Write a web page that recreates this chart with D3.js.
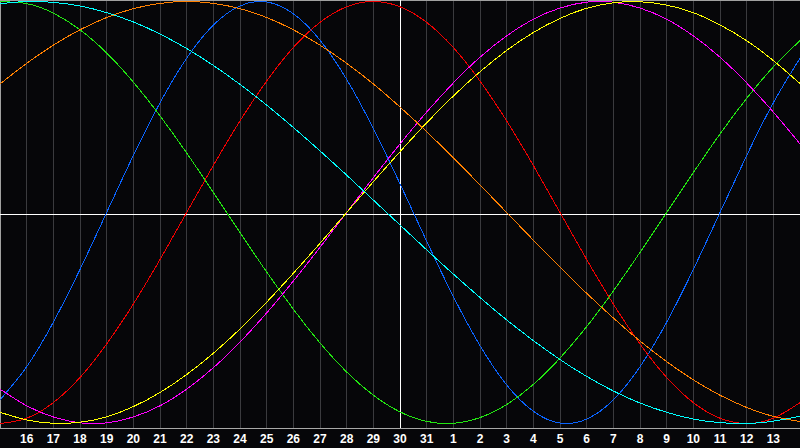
<!DOCTYPE html>
<html><head><meta charset="utf-8">
<script src="https://cdn.jsdelivr.net/npm/d3@7"></script>
<style>html,body{margin:0;padding:0;background:#060609;overflow:hidden}</style>
</head><body>
<svg id="chart" width="800" height="448"></svg>
<script>
// day labels, one per column (index 0 = left edge, 30 = right edge)
const dayLabels = [15,16,17,18,19,20,21,22,23,24,25,26,27,28,29,30,31,1,2,3,4,5,6,7,8,9,10,11,12,13,14];
const todayIndex = 15;

// series values, one per day (-1 .. 1)
const physical     = [-0.888,-0.731,-0.520,-0.270,0,0.270,0.520,0.731,0.888,0.979,0.998,0.942,0.817,0.631,0.398,0.136,-0.136,-0.398,-0.631,-0.817,-0.942,-0.998,-0.979,-0.888,-0.731,-0.520,-0.270,0,0.270,0.520,0.731];
const emotional    = [-1,-0.975,-0.901,-0.782,-0.623,-0.434,-0.223,0,0.223,0.434,0.623,0.782,0.901,0.975,1,0.975,0.901,0.782,0.623,0.434,0.223,0,-0.223,-0.434,-0.623,-0.782,-0.901,-0.975,-1,-0.975,-0.901];
const intellectual = [0.999,0.990,0.945,0.866,0.756,0.618,0.458,0.282,0.095,-0.095,-0.282,-0.458,-0.618,-0.756,-0.866,-0.945,-0.990,-0.999,-0.972,-0.910,-0.815,-0.690,-0.541,-0.372,-0.189,0,0.189,0.372,0.541,0.690,0.815];
const intuitive    = [-0.837,-0.916,-0.969,-0.997,-0.997,-0.969,-0.916,-0.837,-0.736,-0.614,-0.476,-0.325,-0.165,0,0.165,0.325,0.476,0.614,0.736,0.837,0.916,0.969,0.997,0.997,0.969,0.916,0.837,0.736,0.614,0.476,0.325];
const aesthetic    = [-0.947,-0.983,-0.999,-0.994,-0.968,-0.920,-0.853,-0.768,-0.667,-0.552,-0.425,-0.288,-0.146,0,0.146,0.288,0.425,0.552,0.667,0.768,0.853,0.920,0.968,0.994,0.999,0.983,0.947,0.889,0.814,0.720,0.611];
const awareness    = [0.609,0.707,0.793,0.866,0.924,0.966,0.991,1,0.991,0.966,0.924,0.866,0.793,0.707,0.609,0.5,0.383,0.259,0.131,0,-0.131,-0.259,-0.383,-0.5,-0.609,-0.707,-0.793,-0.866,-0.924,-0.966,-0.991];
const spiritual    = [0.989,1.000,0.996,0.979,0.947,0.903,0.846,0.777,0.697,0.607,0.509,0.403,0.292,0.177,0.059,-0.059,-0.177,-0.292,-0.403,-0.509,-0.607,-0.697,-0.777,-0.846,-0.903,-0.947,-0.979,-0.996,-1.000,-0.989,-0.965];

const seriesNames  = ["physical","emotional","intellectual","intuitive","aesthetic","awareness","spiritual"];
const seriesValues = [physical, emotional, intellectual, intuitive, aesthetic, awareness, spiritual];
const seriesColors = ["#0a64ff","#f00000","#22e611","#ff00ff","#ffff00","#ff8000","#00ffff"];

const W = 800, axisY = 428;
const svg = d3.select("#chart");
svg.append("rect").attr("width",W).attr("height",448).attr("fill","#060609");

const x = d3.scaleLinear().domain([0, dayLabels.length-1]).range([0, W]);
const y = d3.scaleLinear().domain([-1, 1]).range([423.5, 1.5]);
const px = i => Math.floor(x(i)) + 0.5;

// vertical day grid
const idx = d3.range(dayLabels.length);
svg.append("g").selectAll("line").data(idx.filter(i => i>0 && i!==todayIndex)).join("line")
  .attr("x1", px).attr("x2", px).attr("y1", 0).attr("y2", axisY)
  .attr("stroke", "#3a3a3e").attr("stroke-width", 1);

// frame
svg.append("line").attr("x1",0).attr("x2",W).attr("y1",0.5).attr("y2",0.5).attr("stroke","#a0a0a0");
svg.append("line").attr("x1",0.5).attr("x2",0.5).attr("y1",0).attr("y2",axisY).attr("stroke","#a0a0a0");
svg.append("line").attr("x1",0).attr("x2",W).attr("y1",axisY+0.5).attr("y2",axisY+0.5).attr("stroke","#a8a8a8");

// today line and zero line
const zeroY = Math.round(y(0)) + 1.5;
svg.append("line").attr("x1",px(todayIndex)).attr("x2",px(todayIndex)).attr("y1",0).attr("y2",axisY).attr("stroke","#ffffff");
svg.append("line").attr("x1",0).attr("x2",W).attr("y1",zeroY).attr("y2",zeroY).attr("stroke","#ffffff");

// curves
const line = d3.line().x((d,i) => x(i)).y(d => y(d)).curve(d3.curveNatural);
svg.append("g").selectAll("path").data(seriesValues).join("path")
  .attr("d", line).attr("fill","none")
  .attr("stroke", (d,i) => seriesColors[i]).attr("stroke-width", 1)
  .attr("shape-rendering","crispEdges");

// day labels
svg.append("g").selectAll("text").data(idx.filter(i => i>0 && i<dayLabels.length-1)).join("text")
  .attr("x", i => x(i)).attr("y", 443)
  .attr("text-anchor","middle")
  .attr("font-family","'Liberation Sans', Arial, sans-serif")
  .attr("font-weight","bold").attr("font-size","12px")
  .attr("fill","#ffffff")
  .text(i => dayLabels[i]);
</script>
</body></html>
